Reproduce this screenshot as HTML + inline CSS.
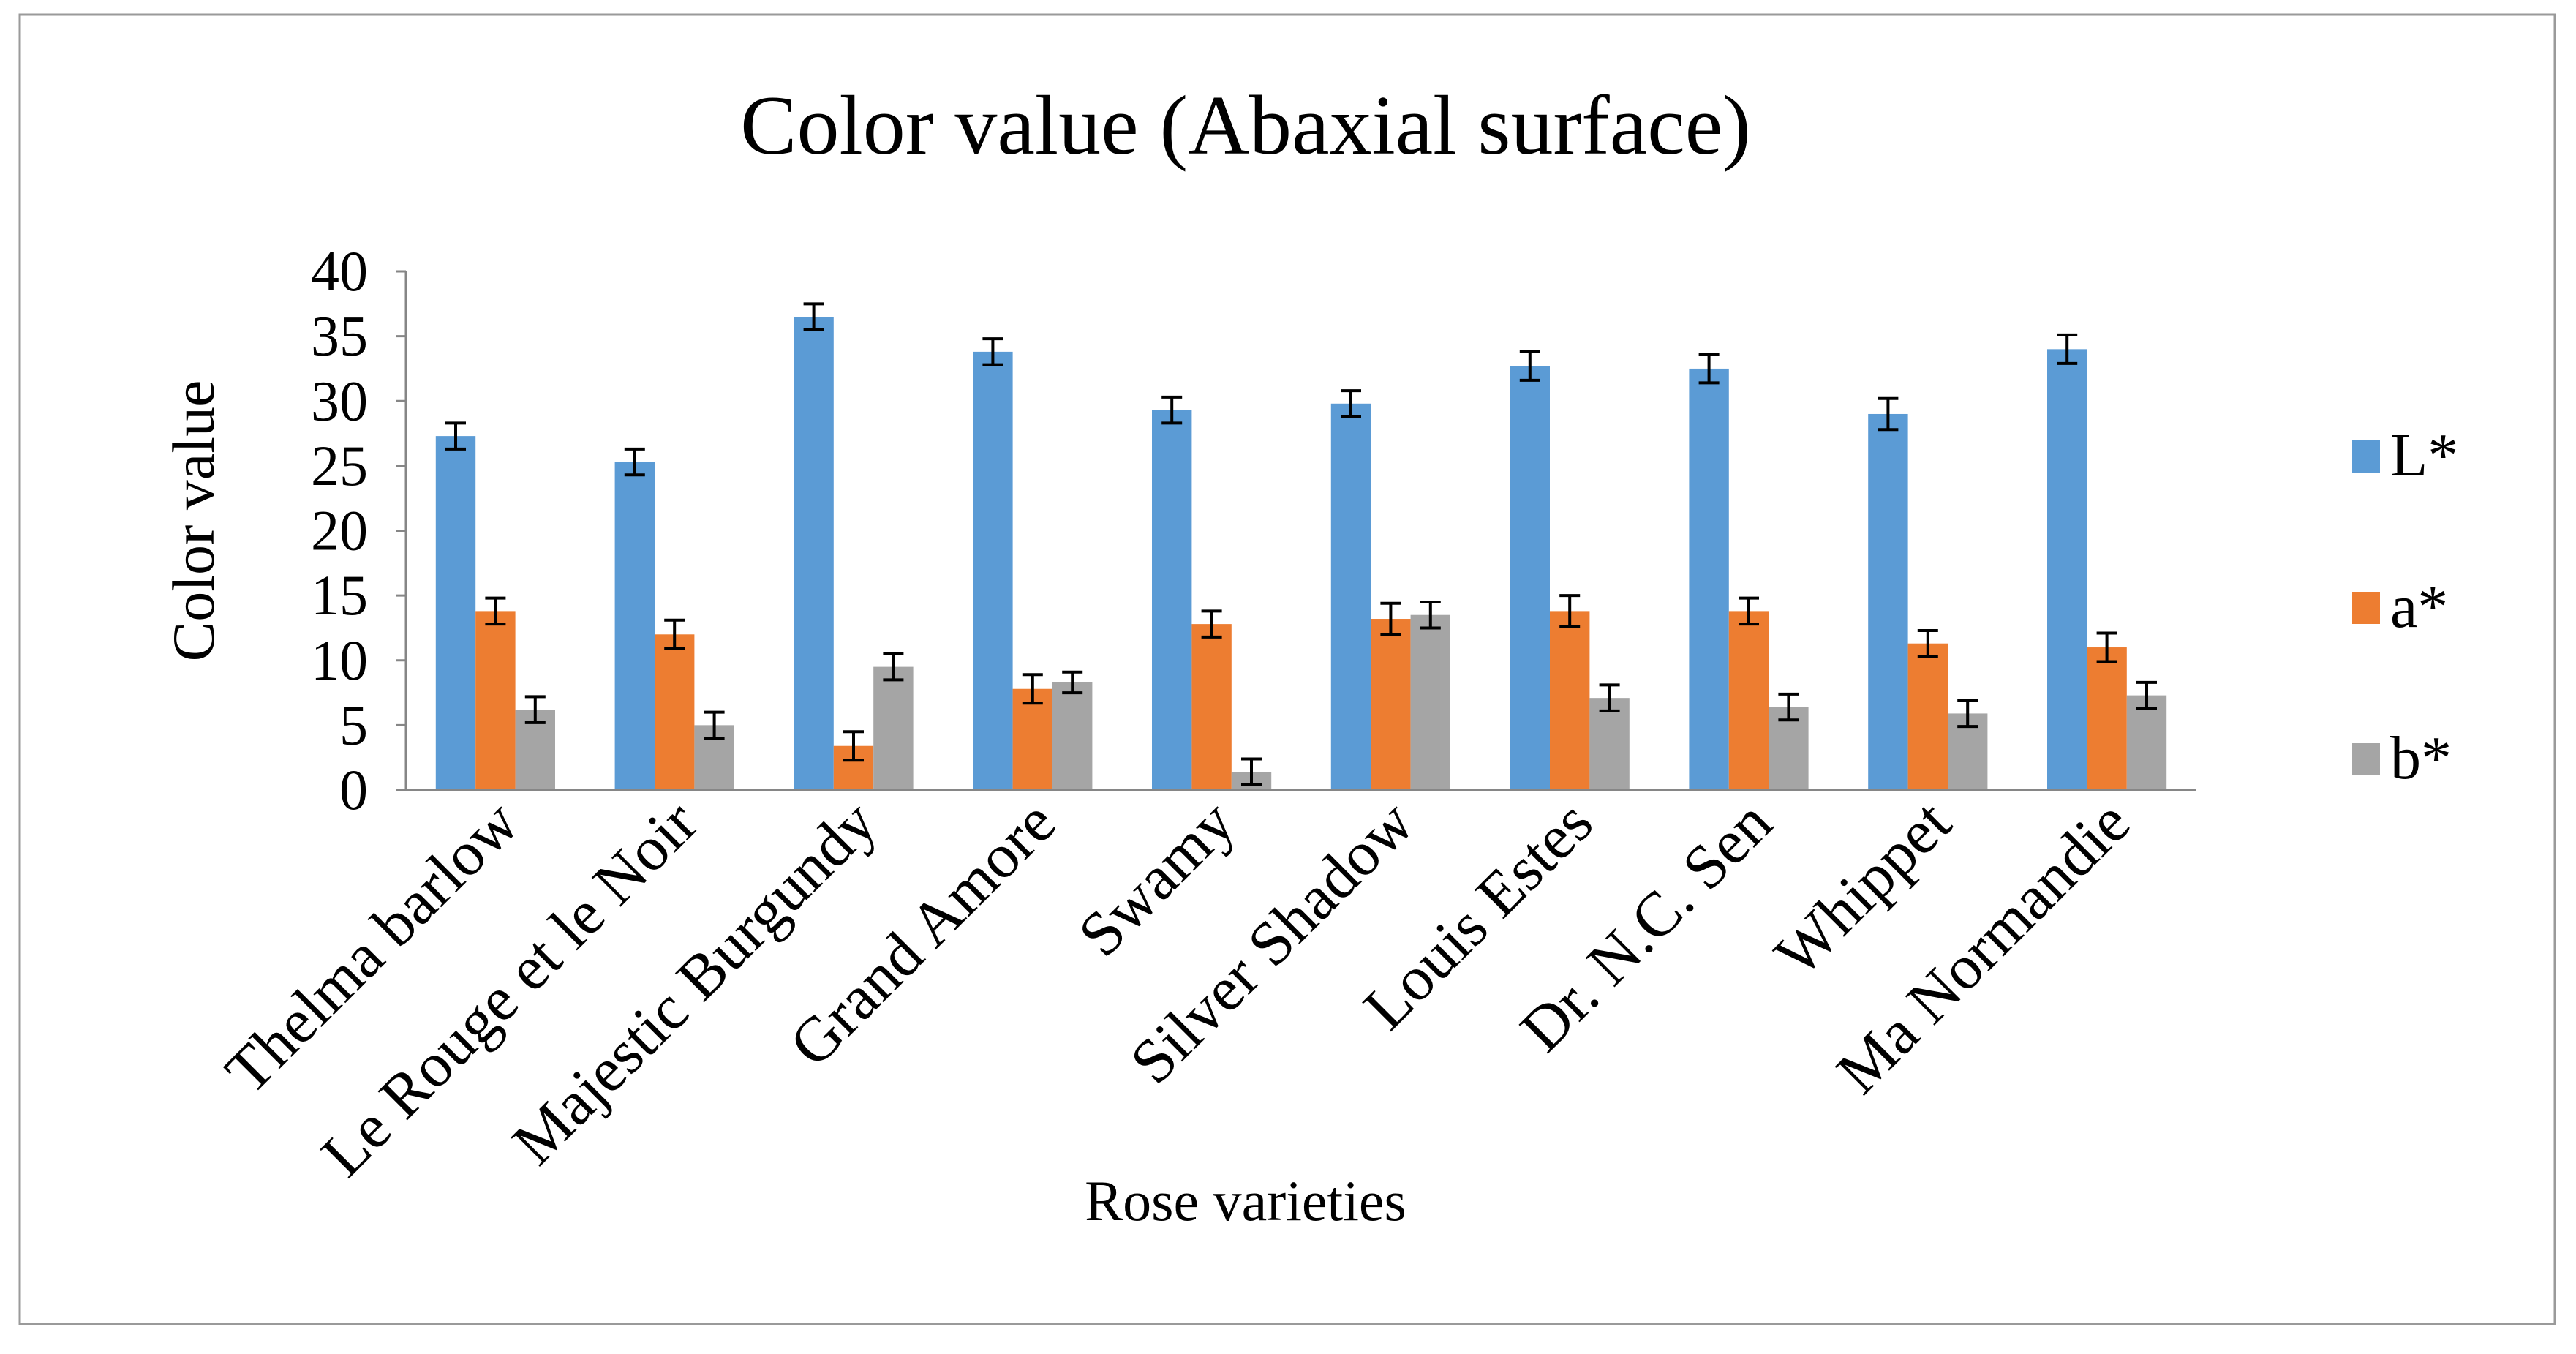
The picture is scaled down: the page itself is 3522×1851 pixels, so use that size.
<!DOCTYPE html>
<html><head><meta charset="utf-8"><style>
html,body{margin:0;padding:0;background:#fff}
svg{display:block}
text{font-family:"Liberation Serif",serif;fill:#000}
</style></head><body>
<svg id="chart" width="3522" height="1851" viewBox="0 0 3522 1851">
<rect x="27" y="20" width="3466" height="1790" fill="#fff" stroke="#9a9a9a" stroke-width="3"/>
<text x="1703" y="210" font-size="116" text-anchor="middle">Color value (Abaxial surface)</text>
<text transform="translate(292,712) rotate(-90)" font-size="82" text-anchor="middle">Color value</text>
<text x="1703" y="1668" font-size="78" text-anchor="middle">Rose varieties</text>
<g id="plot"></g>
<g id="legend"></g>
</svg>
<script>
const categories=["Thelma barlow","Le Rouge et le Noir","Majestic Burgundy","Grand Amore","Swamy","Silver Shadow","Louis Estes","Dr. N.C. Sen","Whippet","Ma Normandie"];
const seriesNames=["L*","a*","b*"];
const Lvals=[27.3,25.3,36.5,33.8,29.3,29.8,32.7,32.5,29.0,34.0];
const aVals=[13.8,12.0,3.4,7.8,12.8,13.2,13.8,13.8,11.3,11.0];
const bVals=[6.2,5.0,9.5,8.3,1.4,13.5,7.1,6.4,5.9,7.3];
const Lerr=[1.0,1.0,1.0,1.0,1.0,1.0,1.1,1.1,1.2,1.1];
const aErr=[1.0,1.1,1.1,1.1,1.0,1.2,1.2,1.0,1.0,1.1];
const bErr=[1.0,1.0,1.0,0.8,1.0,1.0,1.0,1.0,1.0,1.0];
const yTicks=[0,5,10,15,20,25,30,35,40];
const colors=["#5b9bd5","#ed7d31","#a5a5a5"];
const NS="http://www.w3.org/2000/svg";
const x0=555,x1=3003,yTop=371,yBot=1080,yMax=40;
const Y=v=>yBot-(v/yMax)*(yBot-yTop);
const gw=(x1-x0)/categories.length, bw=gw/(3+1.5);
const plot=document.getElementById('plot');
function mk(t,a,p){const e=document.createElementNS(NS,t);for(const k in a)e.setAttribute(k,a[k]);(p||plot).appendChild(e);return e;}
let ax=mk('line',{x1:x0,y1:yTop,x2:x0,y2:yBot,stroke:'#868686','stroke-width':3});


yTicks.forEach(t=>{
 const tk=mk('line',{x1:x0-14,y1:Y(t),x2:x0,y2:Y(t),stroke:'#868686','stroke-width':3});
 
 
 const tl=mk('text',{x:x0-52,y:Y(t)+26,'font-size':78,'text-anchor':'end'});
 tl.textContent=t;
 
 
});
const series=[Lvals,aVals,bVals], errs=[Lerr,aErr,bErr];
categories.forEach((c,i)=>{
 const gx=x0+i*gw+0.75*bw;
 series.forEach((s,j)=>{
  const bx=gx+j*bw, v=s[i];
  const r=mk('rect',{x:bx,y:Y(v),width:bw,height:yBot-Y(v),fill:colors[j]});
  
  
  const e=errs[j][i], cx=bx+bw/2;
  const eg=mk('path',{d:`M${cx},${Y(v+e)}V${Y(v-e)}M${cx-14},${Y(v+e)}H${cx+14}M${cx-14},${Y(v-e)}H${cx+14}`,stroke:'#000','stroke-width':4,fill:'none'});
  
  
 });
 const cx=x0+(i+0.5)*gw+36;
 const lab=mk('text',{transform:`translate(${cx},${yBot+50}) rotate(-45)`,'font-size':86,'text-anchor':'end'});
 lab.textContent=c;
 
 
});
let xa=mk('line',{x1:x0,y1:yBot,x2:x1,y2:yBot,stroke:'#868686','stroke-width':3});


const leg=document.getElementById('legend');
const legY=[624,831,1038];
seriesNames.forEach((n,j)=>{
 const sq=mk('rect',{x:3216,y:legY[j]-22,width:38,height:44,fill:colors[j]},leg);
 
 
 const t=mk('text',{x:3268,y:legY[j]+26,'font-size':84},leg);
 t.textContent=n;
 
 
});
</script>
</body></html>
